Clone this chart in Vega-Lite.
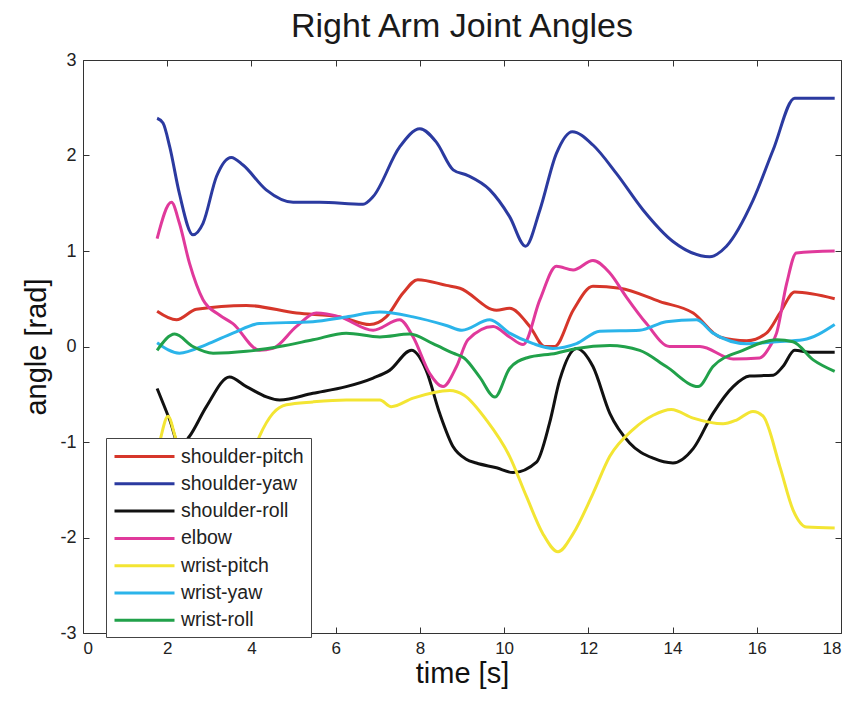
{
  "$schema": "https://vega.github.io/schema/vega-lite/v6.json",
  "width": 758,
  "height": 573,
  "autosize": "none",
  "padding": {"left": 83, "top": 60, "right": 24, "bottom": 69},
  "background": "white",
  "title": {"text": "Right Arm Joint Angles", "font": "Liberation Sans", "fontSize": 34, "fontWeight": "normal", "color": "#1a1a1a", "offset": 7, "anchor": "middle"},
  "config": {
    "view": {"stroke": "#333", "strokeWidth": 1},
    "axis": {"grid": false, "domain": false, "tickSize": -6, "tickColor": "#333", "labelFont": "Liberation Sans", "labelColor": "#222", "titleFont": "Liberation Sans", "titleFontWeight": "normal", "titleColor": "#111", "titleFontSize": 29}
  },
  "data": {"values": [
    {"joint": "shoulder-pitch", "time": 1.76, "angle": 0.37},
    {"joint": "shoulder-pitch", "time": 2.22, "angle": 0.28},
    {"joint": "shoulder-pitch", "time": 2.69, "angle": 0.39},
    {"joint": "shoulder-pitch", "time": 3.88, "angle": 0.43},
    {"joint": "shoulder-pitch", "time": 5.07, "angle": 0.35},
    {"joint": "shoulder-pitch", "time": 6.10, "angle": 0.31},
    {"joint": "shoulder-pitch", "time": 6.81, "angle": 0.23},
    {"joint": "shoulder-pitch", "time": 7.20, "angle": 0.31},
    {"joint": "shoulder-pitch", "time": 7.60, "angle": 0.56},
    {"joint": "shoulder-pitch", "time": 7.95, "angle": 0.70},
    {"joint": "shoulder-pitch", "time": 8.63, "angle": 0.64},
    {"joint": "shoulder-pitch", "time": 8.95, "angle": 0.61},
    {"joint": "shoulder-pitch", "time": 9.82, "angle": 0.38},
    {"joint": "shoulder-pitch", "time": 10.13, "angle": 0.40},
    {"joint": "shoulder-pitch", "time": 10.61, "angle": 0.21},
    {"joint": "shoulder-pitch", "time": 10.96, "angle": 0.00},
    {"joint": "shoulder-pitch", "time": 11.20, "angle": 0.00},
    {"joint": "shoulder-pitch", "time": 11.64, "angle": 0.38},
    {"joint": "shoulder-pitch", "time": 12.11, "angle": 0.63},
    {"joint": "shoulder-pitch", "time": 12.75, "angle": 0.61},
    {"joint": "shoulder-pitch", "time": 13.70, "angle": 0.47},
    {"joint": "shoulder-pitch", "time": 14.49, "angle": 0.35},
    {"joint": "shoulder-pitch", "time": 15.12, "angle": 0.10},
    {"joint": "shoulder-pitch", "time": 15.76, "angle": 0.06},
    {"joint": "shoulder-pitch", "time": 16.23, "angle": 0.14},
    {"joint": "shoulder-pitch", "time": 16.55, "angle": 0.35},
    {"joint": "shoulder-pitch", "time": 16.90, "angle": 0.57},
    {"joint": "shoulder-pitch", "time": 17.85, "angle": 0.50},

    {"joint": "shoulder-yaw", "time": 1.76, "angle": 2.39},
    {"joint": "shoulder-yaw", "time": 1.90, "angle": 2.34},
    {"joint": "shoulder-yaw", "time": 2.06, "angle": 2.09},
    {"joint": "shoulder-yaw", "time": 2.29, "angle": 1.60},
    {"joint": "shoulder-yaw", "time": 2.61, "angle": 1.17},
    {"joint": "shoulder-yaw", "time": 2.85, "angle": 1.29},
    {"joint": "shoulder-yaw", "time": 3.17, "angle": 1.78},
    {"joint": "shoulder-yaw", "time": 3.52, "angle": 1.98},
    {"joint": "shoulder-yaw", "time": 3.80, "angle": 1.90},
    {"joint": "shoulder-yaw", "time": 4.35, "angle": 1.64},
    {"joint": "shoulder-yaw", "time": 4.99, "angle": 1.51},
    {"joint": "shoulder-yaw", "time": 5.62, "angle": 1.51},
    {"joint": "shoulder-yaw", "time": 6.65, "angle": 1.49},
    {"joint": "shoulder-yaw", "time": 6.89, "angle": 1.57},
    {"joint": "shoulder-yaw", "time": 7.52, "angle": 2.09},
    {"joint": "shoulder-yaw", "time": 8.00, "angle": 2.28},
    {"joint": "shoulder-yaw", "time": 8.39, "angle": 2.14},
    {"joint": "shoulder-yaw", "time": 8.79, "angle": 1.85},
    {"joint": "shoulder-yaw", "time": 9.14, "angle": 1.79},
    {"joint": "shoulder-yaw", "time": 9.66, "angle": 1.64},
    {"joint": "shoulder-yaw", "time": 10.13, "angle": 1.36},
    {"joint": "shoulder-yaw", "time": 10.51, "angle": 1.05},
    {"joint": "shoulder-yaw", "time": 10.85, "angle": 1.43},
    {"joint": "shoulder-yaw", "time": 11.24, "angle": 2.02},
    {"joint": "shoulder-yaw", "time": 11.62, "angle": 2.25},
    {"joint": "shoulder-yaw", "time": 12.11, "angle": 2.11},
    {"joint": "shoulder-yaw", "time": 12.67, "angle": 1.81},
    {"joint": "shoulder-yaw", "time": 13.30, "angle": 1.43},
    {"joint": "shoulder-yaw", "time": 14.01, "angle": 1.10},
    {"joint": "shoulder-yaw", "time": 14.88, "angle": 0.94},
    {"joint": "shoulder-yaw", "time": 15.28, "angle": 1.05},
    {"joint": "shoulder-yaw", "time": 15.91, "angle": 1.53},
    {"joint": "shoulder-yaw", "time": 16.39, "angle": 2.06},
    {"joint": "shoulder-yaw", "time": 16.90, "angle": 2.60},
    {"joint": "shoulder-yaw", "time": 17.85, "angle": 2.60},

    {"joint": "shoulder-roll", "time": 1.76, "angle": -0.44},
    {"joint": "shoulder-roll", "time": 2.06, "angle": -0.77},
    {"joint": "shoulder-roll", "time": 2.30, "angle": -1.05},
    {"joint": "shoulder-roll", "time": 2.53, "angle": -0.94},
    {"joint": "shoulder-roll", "time": 2.93, "angle": -0.63},
    {"joint": "shoulder-roll", "time": 3.48, "angle": -0.32},
    {"joint": "shoulder-roll", "time": 3.88, "angle": -0.42},
    {"joint": "shoulder-roll", "time": 4.67, "angle": -0.56},
    {"joint": "shoulder-roll", "time": 5.46, "angle": -0.49},
    {"joint": "shoulder-roll", "time": 6.25, "angle": -0.42},
    {"joint": "shoulder-roll", "time": 6.89, "angle": -0.33},
    {"joint": "shoulder-roll", "time": 7.28, "angle": -0.25},
    {"joint": "shoulder-roll", "time": 7.80, "angle": -0.04},
    {"joint": "shoulder-roll", "time": 8.15, "angle": -0.25},
    {"joint": "shoulder-roll", "time": 8.47, "angle": -0.70},
    {"joint": "shoulder-roll", "time": 8.79, "angle": -1.05},
    {"joint": "shoulder-roll", "time": 9.10, "angle": -1.18},
    {"joint": "shoulder-roll", "time": 9.34, "angle": -1.22},
    {"joint": "shoulder-roll", "time": 9.82, "angle": -1.27},
    {"joint": "shoulder-roll", "time": 10.21, "angle": -1.32},
    {"joint": "shoulder-roll", "time": 10.77, "angle": -1.21},
    {"joint": "shoulder-roll", "time": 11.08, "angle": -0.80},
    {"joint": "shoulder-roll", "time": 11.32, "angle": -0.35},
    {"joint": "shoulder-roll", "time": 11.72, "angle": -0.02},
    {"joint": "shoulder-roll", "time": 12.11, "angle": -0.21},
    {"joint": "shoulder-roll", "time": 12.51, "angle": -0.70},
    {"joint": "shoulder-roll", "time": 12.98, "angle": -1.01},
    {"joint": "shoulder-roll", "time": 13.54, "angle": -1.17},
    {"joint": "shoulder-roll", "time": 14.01, "angle": -1.22},
    {"joint": "shoulder-roll", "time": 14.49, "angle": -1.07},
    {"joint": "shoulder-roll", "time": 14.96, "angle": -0.70},
    {"joint": "shoulder-roll", "time": 15.44, "angle": -0.42},
    {"joint": "shoulder-roll", "time": 15.83, "angle": -0.31},
    {"joint": "shoulder-roll", "time": 16.39, "angle": -0.30},
    {"joint": "shoulder-roll", "time": 16.62, "angle": -0.21},
    {"joint": "shoulder-roll", "time": 16.90, "angle": -0.04},
    {"joint": "shoulder-roll", "time": 17.26, "angle": -0.06},
    {"joint": "shoulder-roll", "time": 17.85, "angle": -0.06},

    {"joint": "elbow", "time": 1.76, "angle": 1.13},
    {"joint": "elbow", "time": 2.10, "angle": 1.51},
    {"joint": "elbow", "time": 2.29, "angle": 1.29},
    {"joint": "elbow", "time": 2.53, "angle": 0.87},
    {"joint": "elbow", "time": 2.85, "angle": 0.49},
    {"joint": "elbow", "time": 3.24, "angle": 0.33},
    {"joint": "elbow", "time": 3.56, "angle": 0.24},
    {"joint": "elbow", "time": 4.19, "angle": -0.04},
    {"joint": "elbow", "time": 4.51, "angle": -0.02},
    {"joint": "elbow", "time": 5.07, "angle": 0.21},
    {"joint": "elbow", "time": 5.54, "angle": 0.35},
    {"joint": "elbow", "time": 6.10, "angle": 0.31},
    {"joint": "elbow", "time": 6.89, "angle": 0.17},
    {"joint": "elbow", "time": 7.52, "angle": 0.28},
    {"joint": "elbow", "time": 7.84, "angle": 0.10},
    {"joint": "elbow", "time": 8.23, "angle": -0.28},
    {"joint": "elbow", "time": 8.55, "angle": -0.42},
    {"joint": "elbow", "time": 8.87, "angle": -0.21},
    {"joint": "elbow", "time": 9.14, "angle": 0.07},
    {"joint": "elbow", "time": 9.74, "angle": 0.21},
    {"joint": "elbow", "time": 10.13, "angle": 0.10},
    {"joint": "elbow", "time": 10.45, "angle": 0.02},
    {"joint": "elbow", "time": 10.85, "angle": 0.49},
    {"joint": "elbow", "time": 11.24, "angle": 0.84},
    {"joint": "elbow", "time": 11.64, "angle": 0.80},
    {"joint": "elbow", "time": 12.11, "angle": 0.90},
    {"joint": "elbow", "time": 12.51, "angle": 0.77},
    {"joint": "elbow", "time": 12.90, "angle": 0.52},
    {"joint": "elbow", "time": 13.38, "angle": 0.24},
    {"joint": "elbow", "time": 13.93, "angle": 0.00},
    {"joint": "elbow", "time": 14.65, "angle": 0.00},
    {"joint": "elbow", "time": 15.44, "angle": -0.13},
    {"joint": "elbow", "time": 16.07, "angle": -0.12},
    {"joint": "elbow", "time": 16.31, "angle": 0.00},
    {"joint": "elbow", "time": 16.47, "angle": 0.14},
    {"joint": "elbow", "time": 16.71, "angle": 0.66},
    {"joint": "elbow", "time": 16.94, "angle": 0.98},
    {"joint": "elbow", "time": 17.85, "angle": 1.00},

    {"joint": "wrist-pitch", "time": 1.80, "angle": -1.05},
    {"joint": "wrist-pitch", "time": 1.86, "angle": -0.93},
    {"joint": "wrist-pitch", "time": 2.02, "angle": -0.73},
    {"joint": "wrist-pitch", "time": 2.18, "angle": -0.93},
    {"joint": "wrist-pitch", "time": 2.40, "angle": -1.30},
    {"joint": "wrist-pitch", "time": 3.00, "angle": -1.50},
    {"joint": "wrist-pitch", "time": 3.60, "angle": -1.40},
    {"joint": "wrist-pitch", "time": 4.00, "angle": -1.15},
    {"joint": "wrist-pitch", "time": 4.19, "angle": -0.94},
    {"joint": "wrist-pitch", "time": 4.51, "angle": -0.70},
    {"joint": "wrist-pitch", "time": 4.83, "angle": -0.61},
    {"joint": "wrist-pitch", "time": 5.46, "angle": -0.58},
    {"joint": "wrist-pitch", "time": 6.25, "angle": -0.56},
    {"joint": "wrist-pitch", "time": 7.05, "angle": -0.56},
    {"joint": "wrist-pitch", "time": 7.32, "angle": -0.63},
    {"joint": "wrist-pitch", "time": 7.84, "angle": -0.54},
    {"joint": "wrist-pitch", "time": 8.71, "angle": -0.46},
    {"joint": "wrist-pitch", "time": 9.05, "angle": -0.51},
    {"joint": "wrist-pitch", "time": 9.58, "angle": -0.77},
    {"joint": "wrist-pitch", "time": 10.13, "angle": -1.15},
    {"joint": "wrist-pitch", "time": 10.53, "angle": -1.57},
    {"joint": "wrist-pitch", "time": 10.92, "angle": -1.96},
    {"joint": "wrist-pitch", "time": 11.28, "angle": -2.15},
    {"joint": "wrist-pitch", "time": 11.64, "angle": -1.96},
    {"joint": "wrist-pitch", "time": 12.11, "angle": -1.54},
    {"joint": "wrist-pitch", "time": 12.51, "angle": -1.15},
    {"joint": "wrist-pitch", "time": 13.06, "angle": -0.87},
    {"joint": "wrist-pitch", "time": 13.54, "angle": -0.72},
    {"joint": "wrist-pitch", "time": 13.97, "angle": -0.66},
    {"joint": "wrist-pitch", "time": 14.49, "angle": -0.75},
    {"joint": "wrist-pitch", "time": 15.20, "angle": -0.81},
    {"joint": "wrist-pitch", "time": 15.52, "angle": -0.77},
    {"joint": "wrist-pitch", "time": 15.91, "angle": -0.68},
    {"joint": "wrist-pitch", "time": 16.15, "angle": -0.73},
    {"joint": "wrist-pitch", "time": 16.55, "angle": -1.26},
    {"joint": "wrist-pitch", "time": 16.86, "angle": -1.71},
    {"joint": "wrist-pitch", "time": 17.18, "angle": -1.89},
    {"joint": "wrist-pitch", "time": 17.85, "angle": -1.90},

    {"joint": "wrist-yaw", "time": 1.76, "angle": 0.04},
    {"joint": "wrist-yaw", "time": 2.29, "angle": -0.07},
    {"joint": "wrist-yaw", "time": 2.93, "angle": 0.02},
    {"joint": "wrist-yaw", "time": 3.56, "angle": 0.14},
    {"joint": "wrist-yaw", "time": 4.19, "angle": 0.24},
    {"joint": "wrist-yaw", "time": 5.46, "angle": 0.26},
    {"joint": "wrist-yaw", "time": 6.25, "angle": 0.31},
    {"joint": "wrist-yaw", "time": 7.05, "angle": 0.36},
    {"joint": "wrist-yaw", "time": 7.84, "angle": 0.31},
    {"joint": "wrist-yaw", "time": 8.63, "angle": 0.22},
    {"joint": "wrist-yaw", "time": 9.00, "angle": 0.17},
    {"joint": "wrist-yaw", "time": 9.66, "angle": 0.28},
    {"joint": "wrist-yaw", "time": 10.13, "angle": 0.14},
    {"joint": "wrist-yaw", "time": 10.69, "angle": 0.03},
    {"joint": "wrist-yaw", "time": 11.16, "angle": -0.02},
    {"joint": "wrist-yaw", "time": 11.72, "angle": 0.03},
    {"joint": "wrist-yaw", "time": 12.27, "angle": 0.16},
    {"joint": "wrist-yaw", "time": 13.22, "angle": 0.17},
    {"joint": "wrist-yaw", "time": 13.85, "angle": 0.26},
    {"joint": "wrist-yaw", "time": 14.57, "angle": 0.28},
    {"joint": "wrist-yaw", "time": 14.96, "angle": 0.14},
    {"joint": "wrist-yaw", "time": 15.76, "angle": 0.03},
    {"joint": "wrist-yaw", "time": 16.47, "angle": 0.05},
    {"joint": "wrist-yaw", "time": 17.10, "angle": 0.07},
    {"joint": "wrist-yaw", "time": 17.85, "angle": 0.23},

    {"joint": "wrist-roll", "time": 1.76, "angle": -0.04},
    {"joint": "wrist-roll", "time": 2.18, "angle": 0.13},
    {"joint": "wrist-roll", "time": 2.61, "angle": 0.00},
    {"joint": "wrist-roll", "time": 3.09, "angle": -0.07},
    {"joint": "wrist-roll", "time": 3.88, "angle": -0.05},
    {"joint": "wrist-roll", "time": 4.67, "angle": 0.00},
    {"joint": "wrist-roll", "time": 5.46, "angle": 0.07},
    {"joint": "wrist-roll", "time": 6.25, "angle": 0.14},
    {"joint": "wrist-roll", "time": 7.05, "angle": 0.10},
    {"joint": "wrist-roll", "time": 7.76, "angle": 0.13},
    {"joint": "wrist-roll", "time": 8.31, "angle": 0.03},
    {"joint": "wrist-roll", "time": 8.79, "angle": -0.07},
    {"joint": "wrist-roll", "time": 9.05, "angle": -0.12},
    {"joint": "wrist-roll", "time": 9.42, "angle": -0.32},
    {"joint": "wrist-roll", "time": 9.78, "angle": -0.53},
    {"joint": "wrist-roll", "time": 10.13, "angle": -0.23},
    {"joint": "wrist-roll", "time": 10.53, "angle": -0.12},
    {"joint": "wrist-roll", "time": 11.24, "angle": -0.07},
    {"joint": "wrist-roll", "time": 11.72, "angle": -0.02},
    {"joint": "wrist-roll", "time": 12.51, "angle": 0.01},
    {"joint": "wrist-roll", "time": 13.22, "angle": -0.04},
    {"joint": "wrist-roll", "time": 13.85, "angle": -0.21},
    {"joint": "wrist-roll", "time": 14.61, "angle": -0.42},
    {"joint": "wrist-roll", "time": 14.96, "angle": -0.21},
    {"joint": "wrist-roll", "time": 15.67, "angle": -0.04},
    {"joint": "wrist-roll", "time": 16.47, "angle": 0.07},
    {"joint": "wrist-roll", "time": 16.86, "angle": 0.05},
    {"joint": "wrist-roll", "time": 17.34, "angle": -0.14},
    {"joint": "wrist-roll", "time": 17.85, "angle": -0.26}
  ]},
  "resolve": {"axis": {"x": "independent", "y": "independent"}},
  "layer": [
    {
      "mark": {"type": "line", "interpolate": "monotone", "strokeWidth": 3},
      "encoding": {
        "x": {"field": "time", "type": "quantitative", "scale": {"domain": [0, 18], "nice": false, "zero": false},
              "axis": {"orient": "bottom", "title": "time [s]", "values": [0, 2, 4, 6, 8, 10, 12, 14, 16, 18], "labelFontSize": 17, "labelPadding": 13, "titlePadding": 3}},
        "y": {"field": "angle", "type": "quantitative", "scale": {"domain": [-3, 3], "nice": false, "zero": false},
              "axis": {"orient": "left", "title": "angle [rad]", "values": [-3, -2, -1, 0, 1, 2, 3], "labelExpr": "replace(datum.label, '\u2212', '-')", "labelFontSize": 18, "labelPadding": 13, "titlePadding": 8}},
        "color": {"field": "joint", "type": "nominal",
          "scale": {"domain": ["shoulder-pitch", "shoulder-yaw", "shoulder-roll", "elbow", "wrist-pitch", "wrist-yaw", "wrist-roll"],
                    "range": ["#d6362a", "#2b3aa0", "#111111", "#e0399b", "#f3e533", "#2bb4ea", "#21a14a"]},
          "legend": {"orient": "none", "legendX": 23, "legendY": 378, "title": null, "fillColor": "white", "strokeColor": "#444", "padding": 7, "rowPadding": 6.3,
                     "labelFont": "Liberation Sans", "labelFontSize": 19.5, "labelColor": "#222", "symbolType": "M-1,0H5", "symbolSize": 400, "symbolStrokeWidth": 3, "labelOffset": 45}}
      }
    },
    {
      "mark": {"type": "point", "opacity": 0},
      "encoding": {
        "x": {"field": "time", "type": "quantitative", "axis": {"orient": "top", "title": null, "labels": false, "values": [0, 2, 4, 6, 8, 10, 12, 14, 16, 18]}},
        "y": {"field": "angle", "type": "quantitative", "axis": {"orient": "right", "title": null, "labels": false, "values": [-3, -2, -1, 0, 1, 2, 3]}}
      }
    }
  ]
}
